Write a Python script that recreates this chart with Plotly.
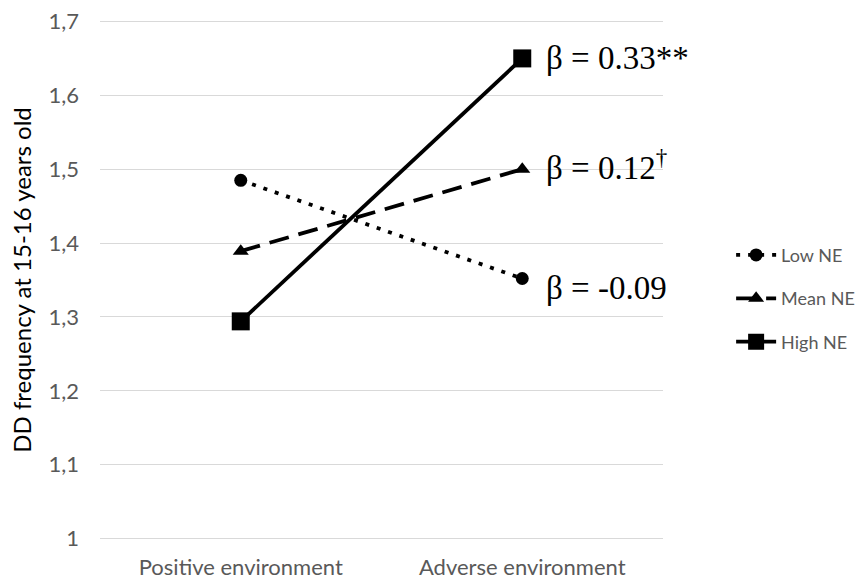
import plotly.graph_objects as go

# Environment categories on the x axis
environments = ["Positive environment", "Adverse environment"]

# Predicted DD frequency for each negative-emotionality level
low_ne = [1.485, 1.352]
mean_ne = [1.389, 1.500]
high_ne = [1.294, 1.650]

series_names = ["Low NE", "Mean NE", "High NE"]
slope_labels = ["β = -0.09", "β = 0.12<sup>†</sup>", "β = 0.33**"]

y_ticks = [1.0, 1.1, 1.2, 1.3, 1.4, 1.5, 1.6, 1.7]
y_tick_text = ["1", "1,1", "1,2", "1,3", "1,4", "1,5", "1,6", "1,7"]

styles = [
    dict(dash="4px,8px", symbol="circle", size=13),
    dict(dash="20px,10px", symbol="triangle-up", size=14),
    dict(dash="solid", symbol="square", size=18),
]

fig = go.Figure()
for name, vals, st in zip(series_names, [low_ne, mean_ne, high_ne], styles):
    fig.add_trace(go.Scatter(
        x=environments, y=vals, name=name, mode="lines+markers",
        legendgroup=name,
        line=dict(color="black", width=3.8, dash=st["dash"]),
        marker=dict(color="black", symbol=st["symbol"], size=st["size"]),
    ))

# Slope labels beside the adverse-environment points
label_yshift = [-9, 4, 0]
for vals, text, ys in zip([low_ne, mean_ne, high_ne], slope_labels, label_yshift):
    fig.add_annotation(
        x=environments[1], y=vals[1], text=text, showarrow=False,
        xanchor="left", yanchor="middle", xshift=22, yshift=ys,
        font=dict(family="Liberation Serif", size=33, color="black"),
    )

fig.update_layout(
    width=864, height=579,
    margin=dict(l=100, r=201, t=20, b=39, autoexpand=False),
    paper_bgcolor="white", plot_bgcolor="white",
    font=dict(family="Lato", color="#595959", size=22),
    showlegend=True,
    legend=dict(
        x=1.121, y=0.464, xanchor="left", yanchor="middle",
        traceorder="grouped", tracegroupgap=17,
        font=dict(family="Lato", size=18, color="#595959"),
        itemwidth=40,
    ),
    xaxis=dict(
        type="category", range=[-0.5, 1.5], automargin=False,
        showgrid=False, zeroline=False, showline=False,
        ticks="", ticklabelstandoff=12,
        tickfont=dict(size=22, color="#595959"),
    ),
    yaxis=dict(
        range=[0.998, 1.702], tickvals=y_ticks, ticktext=y_tick_text,
        automargin=False,
        showgrid=True, gridcolor="#d9d9d9", gridwidth=1,
        zeroline=False, showline=False, ticks="", ticklabelstandoff=20,
        tickfont=dict(size=22, color="#595959"),
        title=dict(text="DD frequency at 15-16 years old",
                   font=dict(size=24, color="black"), standoff=10),
    ),
)

fig.write_html("out.html")
